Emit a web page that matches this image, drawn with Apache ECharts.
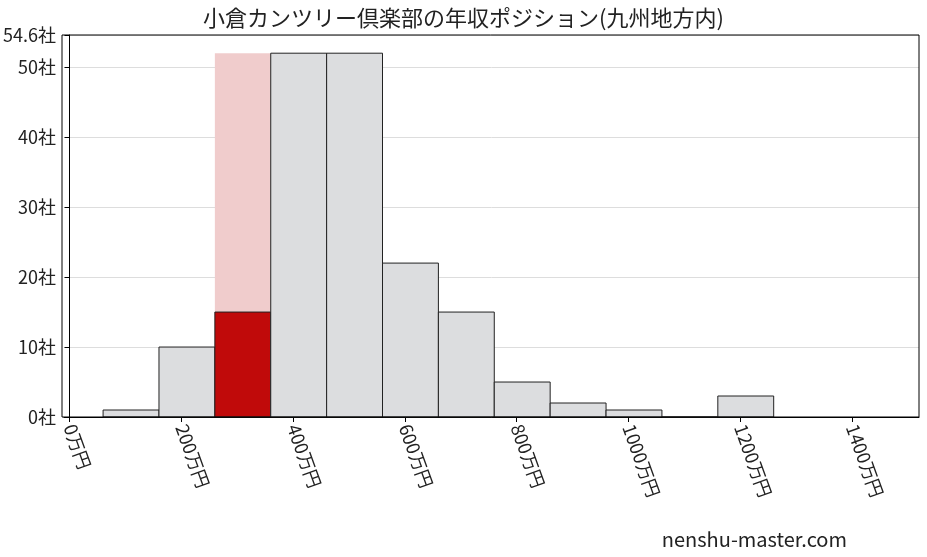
<!DOCTYPE html>
<html>
<head>
<meta charset="utf-8">
<script src="https://cdn.jsdelivr.net/npm/echarts@6/dist/echarts.min.js"></script>
<style>html,body{margin:0;padding:0;background:#fff}#main{width:927px;height:557px}</style>
</head>
<body>
<div id="main"></div>
<script>
// ビンの開始値(万円)・幅・件数
const binStarts = [60, 160, 260, 360, 460, 560, 660, 760, 860, 960, 1060, 1160];
const binWidth = 100;
const counts = [1, 10, 15, 52, 52, 22, 15, 5, 2, 1, 0, 3];
const highlightIndex = 2;
const highlightBg = 52;
const xTicks = [0, 200, 400, 600, 800, 1000, 1200, 1400];

const font = '"Noto Sans CJK JP", "Noto Sans", sans-serif';

function binItem(fill, stroke) {
    return function (params, api) {
        const x0 = api.value(0), x1 = x0 + binWidth, y = api.value(1);
        const p0 = api.coord([x0, y]);
        const p1 = api.coord([x1, 0]);
        return {
            type: 'rect',
            shape: { x: p0[0], y: p0[1], width: p1[0] - p0[0], height: p1[1] - p0[1] },
            style: { fill: api.value(2) ? '#c00a0a' : fill, stroke: stroke, lineWidth: stroke ? 1 : 0 }
        };
    };
}

const mainData = binStarts.map((s, i) => [s, counts[i], i === highlightIndex ? 1 : 0]);
const bgData = [[binStarts[highlightIndex], highlightBg, 0]];

const chart = echarts.init(document.getElementById('main'));
chart.setOption({
    animation: false,
    title: {
        text: '小倉カンツリー倶楽部の年収ポジション(九州地方内)',
        left: 'center', top: 2,
        textStyle: { fontFamily: font, fontSize: 22, fontWeight: 'normal', color: '#222' }
    },
    grid: { left: 62, right: 8, top: 35, bottom: 140 },
    xAxis: {
        type: 'value', min: -10, max: 1520,
        axisLine: { lineStyle: { color: '#000' } },
        axisTick: { show: true, customValues: xTicks, lineStyle: { color: '#000' } },
        axisLabel: {
            customValues: xTicks, rotate: -70, fontFamily: font, fontSize: 18, color: '#222',
            formatter: v => v + '万円'
        },
        splitLine: { show: false }
    },
    yAxis: {
        type: 'value', min: 0, max: 54.6, interval: 10,
        axisLine: { show: true, lineStyle: { color: '#000' } },
        axisTick: { show: true, lineStyle: { color: '#000' } },
        axisLabel: { fontFamily: font, fontSize: 18, color: '#222', formatter: v => v + '社' },
        splitLine: { lineStyle: { color: '#ddd' } }
    },
    graphic: [
        { type: 'rect', shape: { x: 62, y: 35, width: 857, height: 382 }, style: { fill: 'none', stroke: '#000', lineWidth: 1 }, z: 10 },
        { type: 'text', right: 80, bottom: 8, style: { text: 'nenshu-master.com', fontFamily: font, fontSize: 20, fill: '#222' } }
    ],
    series: [
        { type: 'custom', renderItem: binItem('#f0cccc', null), data: bgData, encode: { x: 0, y: 1 }, z: 1 },
        { type: 'custom', renderItem: binItem('#dcdddf', '#222'), data: mainData, encode: { x: 0, y: 1 }, z: 2 }
    ]
});
</script>
</body>
</html>
